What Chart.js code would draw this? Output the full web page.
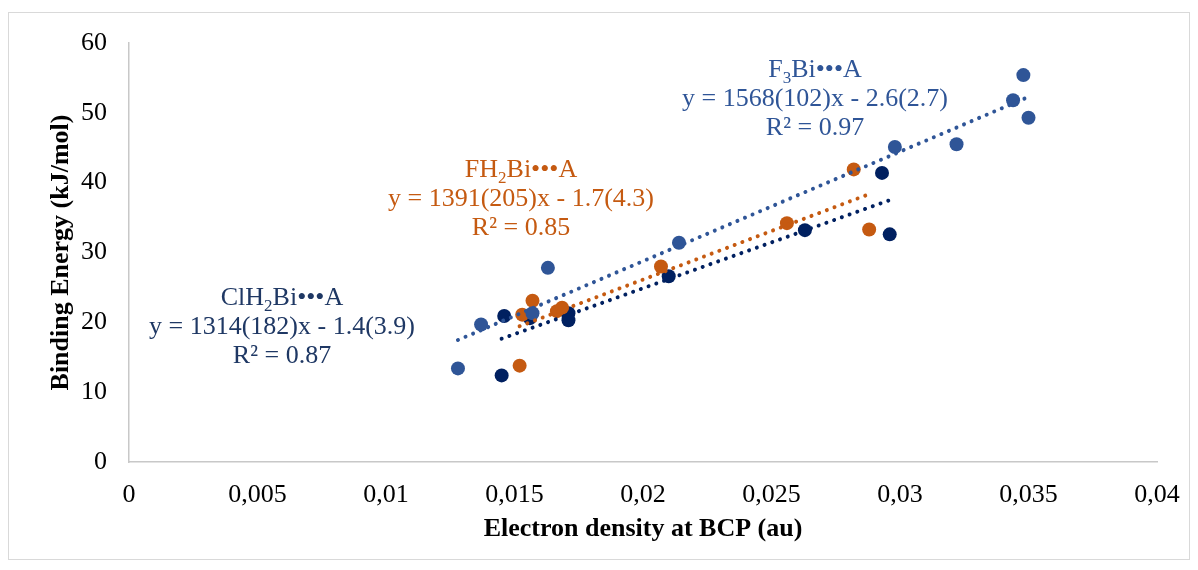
<!DOCTYPE html>
<html>
<head>
<meta charset="utf-8">
<script src="https://cdn.jsdelivr.net/npm/chart.js@4.4.1/dist/chart.umd.min.js"></script>
<style>
  html, body { margin: 0; padding: 0; background: #fff; }
  canvas { display: block; }
</style>
</head>
<body>
<canvas id="scatterChart" width="1198" height="570"></canvas>
<script>
// electron density (au) vs binding energy (kJ/mol)
const f3X = [0.0128, 0.0137, 0.0157, 0.0163, 0.0214, 0.0298, 0.0322, 0.0344, 0.0348, 0.0350];
const f3Y = [13.4, 19.7, 21.3, 27.8, 31.4, 45.1, 45.5, 51.8, 55.4, 49.3];

const fh2X = [0.0152, 0.0153, 0.0157, 0.01665, 0.01685, 0.0207, 0.0256, 0.0282, 0.0288];
const fh2Y = [13.8, 21.1, 23.1, 21.6, 22.1, 28.0, 34.2, 41.9, 33.3];

const clh2X = [0.0145, 0.0146, 0.0156, 0.0171, 0.0171, 0.0210, 0.0263, 0.0293, 0.0296];
const clh2Y = [12.4, 20.9, 20.6, 21.3, 20.3, 26.6, 33.2, 41.4, 32.6];

// linear fits: slope(err), intercept(err), R²
const slopes = [1568, 1391, 1314];
const slopeErrs = [102, 205, 182];
const intercepts = [-2.6, -1.7, -1.4];
const interceptErrs = [2.7, 4.3, 3.9];
const r2 = [0.97, 0.85, 0.87];

const xTickLabels = ["0", "0,005", "0,01", "0,015", "0,02", "0,025", "0,03", "0,035", "0,04"];
const yTickValues = [0, 10, 20, 30, 40, 50, 60];

const colors = ["#2f5597", "#c55a11", "#002060"];
const textColors = ["#2f5597", "#c55a11", "#1f3864"];
const serif = "'Liberation Serif', 'Times New Roman', serif";

const seriesX = [f3X, fh2X, clh2X];
const seriesY = [f3Y, fh2Y, clh2Y];

function toPoints(xs, ys) {
  return xs.map((x, i) => ({ x: x, y: ys[i] }));
}

// trendline spans the x range of its own series
function fitLine(k) {
  const xs = seriesX[k];
  const x0 = Math.min(...xs), x1 = Math.max(...xs);
  return [x0, x1].map(x => ({ x: x, y: slopes[k] * x + intercepts[k] }));
}

const pointSets = [0, 1, 2].map(k => ({
  type: "scatter",
  data: toPoints(seriesX[k], seriesY[k]),
  backgroundColor: colors[k],
  borderWidth: 0,
  pointRadius: 7,
  pointHoverRadius: 7,
  order: 2
}));

const trendSets = [0, 1, 2].map(k => ({
  type: "line",
  data: fitLine(k),
  borderColor: colors[k],
  borderWidth: 4,
  borderDash: [0.01, 8.2],
  borderCapStyle: "round",
  pointRadius: 0,
  fill: false,
  order: 1
}));

// equation boxes with subscripted formula names
const labels = [
  { name: ["F", "3", "Bi\u2022\u2022\u2022A"], cx: 815, base: 77 },
  { name: ["FH", "2", "Bi\u2022\u2022\u2022A"], cx: 521, base: 177 },
  { name: ["ClH", "2", "Bi\u2022\u2022\u2022A"], cx: 282, base: 305 }
];

const fitLabels = {
  id: "fitLabels",
  afterDatasetsDraw(chart) {
    const ctx = chart.ctx;
    ctx.save();
    ctx.textBaseline = "alphabetic";
    labels.forEach((lab, k) => {
      ctx.fillStyle = textColors[k];
      const big = "26px " + serif, small = "17px " + serif;
      ctx.font = big;
      const w0 = ctx.measureText(lab.name[0]).width;
      const w2 = ctx.measureText(lab.name[2]).width;
      ctx.font = small;
      const w1 = ctx.measureText(lab.name[1]).width;
      let x = lab.cx - (w0 + w1 + w2) / 2;
      ctx.textAlign = "left";
      ctx.font = big;
      ctx.fillText(lab.name[0], x, lab.base);
      ctx.font = small;
      ctx.fillText(lab.name[1], x + w0, lab.base + 6);
      ctx.font = big;
      ctx.fillText(lab.name[2], x + w0 + w1, lab.base);

      ctx.textAlign = "center";
      const eq = "y = " + slopes[k] + "(" + slopeErrs[k] + ")x - " +
        Math.abs(intercepts[k]) + "(" + interceptErrs[k] + ")";
      ctx.fillText(eq, lab.cx, lab.base + 29);
      ctx.fillText("R\u00b2 = " + r2[k].toFixed(2), lab.cx, lab.base + 58);
    });
    ctx.restore();
  }
};

const frame = {
  id: "frame",
  beforeDraw(chart) {
    const ctx = chart.ctx;
    ctx.save();
    ctx.fillStyle = "#ffffff";
    ctx.fillRect(0, 0, chart.width, chart.height);
    ctx.strokeStyle = "#d9d9d9";
    ctx.lineWidth = 1;
    ctx.strokeRect(8.5, 12.5, 1181, 547);
    ctx.restore();
  }
};

const ctx = document.getElementById("scatterChart").getContext("2d");
const chart = new Chart(ctx, {
  type: "scatter",
  data: { datasets: pointSets.concat(trendSets) },
  options: {
    responsive: false,
    animation: false,
    layout: { padding: { top: 43, right: 41, bottom: 0, left: 0 } },
    plugins: { legend: { display: false }, tooltip: { enabled: false } },
    scales: {
      x: {
        type: "linear",
        min: 0,
        max: 0.04,
        afterFit(scale) { scale.height = 108; },
        afterBuildTicks(scale) {
          scale.ticks = xTickLabels.map((t, i) => ({ value: i * 0.005 }));
        },
        grid: { display: false, drawTicks: false },
        border: { display: true, color: "#c8c8c8", width: 1.5 },
        ticks: {
          padding: 18,
          color: "#000",
          font: { family: serif, size: 26 },
          maxRotation: 0,
          autoSkip: false,
          callback: (v, i) => xTickLabels[i]
        },
        title: {
          display: true,
          text: "Electron density at BCP (au)",
          color: "#000",
          font: { family: serif, size: 26, weight: "bold" },
          padding: { top: 0, bottom: 25 }
        }
      },
      y: {
        min: 0,
        max: 60,
        afterFit(scale) { scale.width = 129; },
        afterBuildTicks(scale) {
          scale.ticks = yTickValues.map(v => ({ value: v }));
        },
        grid: { display: false, drawTicks: false },
        border: { display: true, color: "#c8c8c8", width: 1.5 },
        ticks: {
          padding: 22,
          color: "#000",
          font: { family: serif, size: 26 }
        },
        title: {
          display: true,
          text: "Binding Energy (kJ/mol)",
          color: "#000",
          font: { family: serif, size: 26, weight: "bold" },
          padding: { top: 46, bottom: 0 }
        }
      }
    }
  },
  plugins: [frame, fitLabels]
});
</script>
</body>
</html>
